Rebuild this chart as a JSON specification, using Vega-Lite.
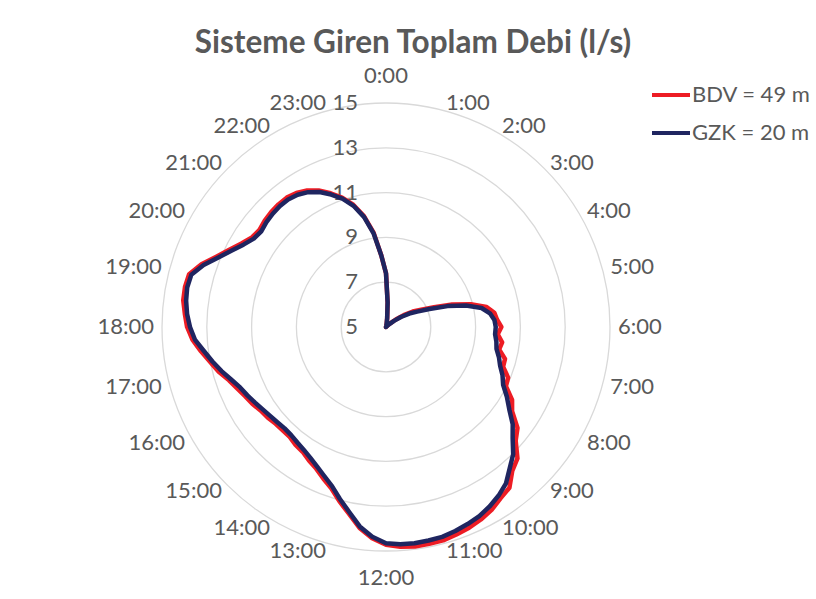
{
  "$schema": "https://vega.github.io/schema/vega-lite/v6.json",
  "width": 448,
  "height": 448,
  "autosize": {"type": "none"},
  "padding": {"left": 162, "top": 103, "right": 206, "bottom": 48},
  "background": "white",
  "config": {
    "view": {"stroke": null},
    "font": "Lato",
    "text": {"font": "Lato", "fontSize": 22, "color": "#595959"}
  },
  "title": {
    "text": "Sisteme Giren Toplam Debi (l/s)",
    "font": "Lato",
    "fontSize": 31.5,
    "fontWeight": "bold",
    "color": "#595959",
    "anchor": "middle",
    "dx": 27,
    "offset": 6
  },
  "datasets": {
    "olcum": [
      {"h": 0, "BDV = 49 m": 7.4, "GZK = 20 m": 7.4},
      {"h": 0.25, "BDV = 49 m": 6.1, "GZK = 20 m": 6.1},
      {"h": 0.5, "BDV = 49 m": 5.4, "GZK = 20 m": 5.4},
      {"h": 0.75, "BDV = 49 m": 5.15, "GZK = 20 m": 5.15},
      {"h": 1, "BDV = 49 m": 5.05, "GZK = 20 m": 5.05},
      {"h": 1.25, "BDV = 49 m": 5.02, "GZK = 20 m": 5.02},
      {"h": 1.5, "BDV = 49 m": 5.0, "GZK = 20 m": 5.0},
      {"h": 1.75, "BDV = 49 m": 5.0, "GZK = 20 m": 5.0},
      {"h": 2, "BDV = 49 m": 5.0, "GZK = 20 m": 5.0},
      {"h": 2.25, "BDV = 49 m": 5.0, "GZK = 20 m": 5.0},
      {"h": 2.5, "BDV = 49 m": 5.0, "GZK = 20 m": 5.0},
      {"h": 2.75, "BDV = 49 m": 5.03, "GZK = 20 m": 5.03},
      {"h": 3, "BDV = 49 m": 5.1, "GZK = 20 m": 5.08},
      {"h": 3.25, "BDV = 49 m": 5.25, "GZK = 20 m": 5.2},
      {"h": 3.5, "BDV = 49 m": 5.55, "GZK = 20 m": 5.45},
      {"h": 3.75, "BDV = 49 m": 5.95, "GZK = 20 m": 5.8},
      {"h": 4, "BDV = 49 m": 6.38, "GZK = 20 m": 6.2},
      {"h": 4.25, "BDV = 49 m": 6.75, "GZK = 20 m": 6.55},
      {"h": 4.5, "BDV = 49 m": 7.32, "GZK = 20 m": 7.1},
      {"h": 4.75, "BDV = 49 m": 8.12, "GZK = 20 m": 7.9},
      {"h": 5, "BDV = 49 m": 8.92, "GZK = 20 m": 8.7},
      {"h": 5.25, "BDV = 49 m": 9.58, "GZK = 20 m": 9.35},
      {"h": 5.5, "BDV = 49 m": 9.88, "GZK = 20 m": 9.68},
      {"h": 5.75, "BDV = 49 m": 9.97, "GZK = 20 m": 9.85},
      {"h": 6, "BDV = 49 m": 10.15, "GZK = 20 m": 9.9},
      {"h": 6.25, "BDV = 49 m": 10.0, "GZK = 20 m": 9.88},
      {"h": 6.5, "BDV = 49 m": 10.23, "GZK = 20 m": 9.97},
      {"h": 6.75, "BDV = 49 m": 10.15, "GZK = 20 m": 10.03},
      {"h": 7, "BDV = 49 m": 10.5, "GZK = 20 m": 10.22},
      {"h": 7.25, "BDV = 49 m": 10.52, "GZK = 20 m": 10.38},
      {"h": 7.5, "BDV = 49 m": 10.9, "GZK = 20 m": 10.63},
      {"h": 7.75, "BDV = 49 m": 10.97, "GZK = 20 m": 10.83},
      {"h": 8, "BDV = 49 m": 11.5, "GZK = 20 m": 11.23},
      {"h": 8.25, "BDV = 49 m": 11.77, "GZK = 20 m": 11.62},
      {"h": 8.5, "BDV = 49 m": 12.4, "GZK = 20 m": 12.13},
      {"h": 8.75, "BDV = 49 m": 12.7, "GZK = 20 m": 12.52},
      {"h": 9, "BDV = 49 m": 13.3, "GZK = 20 m": 13.03},
      {"h": 9.25, "BDV = 49 m": 13.55, "GZK = 20 m": 13.38},
      {"h": 9.5, "BDV = 49 m": 14.05, "GZK = 20 m": 13.8},
      {"h": 9.75, "BDV = 49 m": 14.2, "GZK = 20 m": 14.05},
      {"h": 10, "BDV = 49 m": 14.43, "GZK = 20 m": 14.25},
      {"h": 10.25, "BDV = 49 m": 14.58, "GZK = 20 m": 14.42},
      {"h": 10.5, "BDV = 49 m": 14.7, "GZK = 20 m": 14.52},
      {"h": 10.75, "BDV = 49 m": 14.78, "GZK = 20 m": 14.62},
      {"h": 11, "BDV = 49 m": 14.86, "GZK = 20 m": 14.7},
      {"h": 11.25, "BDV = 49 m": 14.87, "GZK = 20 m": 14.72},
      {"h": 11.5, "BDV = 49 m": 14.88, "GZK = 20 m": 14.74},
      {"h": 11.75, "BDV = 49 m": 14.83, "GZK = 20 m": 14.72},
      {"h": 12, "BDV = 49 m": 14.72, "GZK = 20 m": 14.65},
      {"h": 12.25, "BDV = 49 m": 14.45, "GZK = 20 m": 14.38},
      {"h": 12.5, "BDV = 49 m": 14.05, "GZK = 20 m": 13.98},
      {"h": 12.75, "BDV = 49 m": 13.5, "GZK = 20 m": 13.42},
      {"h": 13, "BDV = 49 m": 13.05, "GZK = 20 m": 12.95},
      {"h": 13.25, "BDV = 49 m": 12.6, "GZK = 20 m": 12.5},
      {"h": 13.5, "BDV = 49 m": 12.32, "GZK = 20 m": 12.2},
      {"h": 13.75, "BDV = 49 m": 12.05, "GZK = 20 m": 11.95},
      {"h": 14, "BDV = 49 m": 11.88, "GZK = 20 m": 11.75},
      {"h": 14.25, "BDV = 49 m": 11.7, "GZK = 20 m": 11.6},
      {"h": 14.5, "BDV = 49 m": 11.63, "GZK = 20 m": 11.5},
      {"h": 14.75, "BDV = 49 m": 11.52, "GZK = 20 m": 11.42},
      {"h": 15, "BDV = 49 m": 11.52, "GZK = 20 m": 11.4},
      {"h": 15.25, "BDV = 49 m": 11.55, "GZK = 20 m": 11.45},
      {"h": 15.5, "BDV = 49 m": 11.65, "GZK = 20 m": 11.52},
      {"h": 15.75, "BDV = 49 m": 11.72, "GZK = 20 m": 11.62},
      {"h": 16, "BDV = 49 m": 11.88, "GZK = 20 m": 11.75},
      {"h": 16.25, "BDV = 49 m": 12.0, "GZK = 20 m": 11.9},
      {"h": 16.5, "BDV = 49 m": 12.18, "GZK = 20 m": 12.05},
      {"h": 16.75, "BDV = 49 m": 12.4, "GZK = 20 m": 12.3},
      {"h": 17, "BDV = 49 m": 12.73, "GZK = 20 m": 12.6},
      {"h": 17.25, "BDV = 49 m": 13.0, "GZK = 20 m": 12.9},
      {"h": 17.5, "BDV = 49 m": 13.33, "GZK = 20 m": 13.2},
      {"h": 17.75, "BDV = 49 m": 13.66, "GZK = 20 m": 13.55},
      {"h": 18, "BDV = 49 m": 13.88, "GZK = 20 m": 13.75},
      {"h": 18.25, "BDV = 49 m": 14.0, "GZK = 20 m": 13.9},
      {"h": 18.5, "BDV = 49 m": 14.13, "GZK = 20 m": 14.0},
      {"h": 18.75, "BDV = 49 m": 14.15, "GZK = 20 m": 14.05},
      {"h": 19, "BDV = 49 m": 14.1, "GZK = 20 m": 14.0},
      {"h": 19.25, "BDV = 49 m": 13.7, "GZK = 20 m": 13.6},
      {"h": 19.5, "BDV = 49 m": 13.2, "GZK = 20 m": 13.1},
      {"h": 19.75, "BDV = 49 m": 12.8, "GZK = 20 m": 12.7},
      {"h": 20, "BDV = 49 m": 12.45, "GZK = 20 m": 12.35},
      {"h": 20.25, "BDV = 49 m": 12.2, "GZK = 20 m": 12.1},
      {"h": 20.5, "BDV = 49 m": 12.12, "GZK = 20 m": 12.02},
      {"h": 20.75, "BDV = 49 m": 12.2, "GZK = 20 m": 12.1},
      {"h": 21, "BDV = 49 m": 12.25, "GZK = 20 m": 12.15},
      {"h": 21.25, "BDV = 49 m": 12.28, "GZK = 20 m": 12.18},
      {"h": 21.5, "BDV = 49 m": 12.28, "GZK = 20 m": 12.18},
      {"h": 21.75, "BDV = 49 m": 12.2, "GZK = 20 m": 12.1},
      {"h": 22, "BDV = 49 m": 12.04, "GZK = 20 m": 11.95},
      {"h": 22.25, "BDV = 49 m": 11.8, "GZK = 20 m": 11.72},
      {"h": 22.5, "BDV = 49 m": 11.46, "GZK = 20 m": 11.4},
      {"h": 22.75, "BDV = 49 m": 11.1, "GZK = 20 m": 11.05},
      {"h": 23, "BDV = 49 m": 10.65, "GZK = 20 m": 10.6},
      {"h": 23.25, "BDV = 49 m": 10.05, "GZK = 20 m": 10.0},
      {"h": 23.5, "BDV = 49 m": 9.25, "GZK = 20 m": 9.2},
      {"h": 23.75, "BDV = 49 m": 8.2, "GZK = 20 m": 8.2},
      {"h": 24, "BDV = 49 m": 7.4, "GZK = 20 m": 7.4}
    ],
    "saatler": [
      {"h": 0, "etiket": "0:00"}, {"h": 1, "etiket": "1:00"}, {"h": 2, "etiket": "2:00"},
      {"h": 3, "etiket": "3:00"}, {"h": 4, "etiket": "4:00"}, {"h": 5, "etiket": "5:00"},
      {"h": 6, "etiket": "6:00"}, {"h": 7, "etiket": "7:00"}, {"h": 8, "etiket": "8:00"},
      {"h": 9, "etiket": "9:00"}, {"h": 10, "etiket": "10:00"}, {"h": 11, "etiket": "11:00"},
      {"h": 12, "etiket": "12:00"}, {"h": 13, "etiket": "13:00"}, {"h": 14, "etiket": "14:00"},
      {"h": 15, "etiket": "15:00"}, {"h": 16, "etiket": "16:00"}, {"h": 17, "etiket": "17:00"},
      {"h": 18, "etiket": "18:00"}, {"h": 19, "etiket": "19:00"}, {"h": 20, "etiket": "20:00"},
      {"h": 21, "etiket": "21:00"}, {"h": 22, "etiket": "22:00"}, {"h": 23, "etiket": "23:00"}
    ],
    "halkalar": [{"v": 5}, {"v": 7}, {"v": 9}, {"v": 11}, {"v": 13}, {"v": 15}]
  },
  "layer": [
    {
      "data": {"name": "halkalar"},
      "transform": [
        {"filter": "datum.v > 5"},
        {"calculate": "datum.v - 5", "as": "d"},
        {"calculate": "0", "as": "px"},
        {"calculate": "0", "as": "py"}
      ],
      "mark": {"type": "point", "shape": "circle", "filled": false, "color": "#d9d9d9", "stroke": "#d9d9d9", "strokeWidth": 1.3, "opacity": 1},
      "encoding": {
        "x": {"field": "px", "type": "quantitative", "scale": {"domain": [-10, 10], "nice": false, "zero": false}, "axis": null},
        "y": {"field": "py", "type": "quantitative", "scale": {"domain": [-10, 10], "nice": false, "zero": false}, "axis": null},
        "size": {"field": "d", "type": "quantitative", "scale": {"type": "pow", "exponent": 2, "domain": [0, 10], "range": [0, 200704]}, "legend": null}
      }
    },
    {
      "data": {"name": "halkalar"},
      "transform": [
        {"calculate": "0", "as": "px"},
        {"calculate": "datum.v - 5", "as": "py"}
      ],
      "mark": {"type": "text", "align": "right", "baseline": "middle", "dx": -28},
      "encoding": {
        "x": {"field": "px", "type": "quantitative", "scale": {"domain": [-10, 10], "nice": false, "zero": false}, "axis": null},
        "y": {"field": "py", "type": "quantitative", "scale": {"domain": [-10, 10], "nice": false, "zero": false}, "axis": null},
        "text": {"field": "v", "type": "quantitative", "format": "d"}
      }
    },
    {
      "data": {"name": "olcum"},
      "transform": [
        {"fold": ["BDV = 49 m", "GZK = 20 m"], "as": ["seri", "debi"]},
        {"calculate": "2 * PI * datum.h / 24", "as": "aci"},
        {"calculate": "(datum.debi - 5) * sin(datum.aci)", "as": "px"},
        {"calculate": "(datum.debi - 5) * cos(datum.aci)", "as": "py"}
      ],
      "mark": {"type": "line", "strokeWidth": 4.5, "strokeJoin": "round", "strokeCap": "round"},
      "encoding": {
        "x": {"field": "px", "type": "quantitative", "scale": {"domain": [-10, 10], "nice": false, "zero": false}, "axis": null},
        "y": {"field": "py", "type": "quantitative", "scale": {"domain": [-10, 10], "nice": false, "zero": false}, "axis": null},
        "order": {"field": "h", "type": "quantitative"},
        "color": {
          "field": "seri",
          "type": "nominal",
          "scale": {"domain": ["BDV = 49 m", "GZK = 20 m"], "range": ["#ed1c24", "#1f2560"]},
          "legend": {
            "orient": "none",
            "legendX": 488,
            "legendY": -29,
            "title": null,
            "padding": 0,
            "symbolType": "stroke",
            "symbolSize": 1444,
            "symbolStrokeWidth": 4,
            "labelFont": "Lato",
            "labelFontSize": 22,
            "labelColor": "#595959",
            "labelOffset": 0,
            "rowPadding": 6
          }
        }
      }
    },
    {
      "data": {"name": "saatler"},
      "transform": [
        {"filter": "datum.h > 0 && datum.h < 12"},
        {"calculate": "2 * PI * datum.h / 24", "as": "aci"},
        {"calculate": "10.36 * sin(datum.aci)", "as": "px"},
        {"calculate": "10.36 * cos(datum.aci)", "as": "py"}
      ],
      "mark": {"type": "text", "align": "left", "baseline": "middle"},
      "encoding": {
        "x": {"field": "px", "type": "quantitative", "scale": {"domain": [-10, 10], "nice": false, "zero": false}, "axis": null},
        "y": {"field": "py", "type": "quantitative", "scale": {"domain": [-10, 10], "nice": false, "zero": false}, "axis": null},
        "text": {"field": "etiket", "type": "nominal"}
      }
    },
    {
      "data": {"name": "saatler"},
      "transform": [
        {"filter": "datum.h > 12"},
        {"calculate": "2 * PI * datum.h / 24", "as": "aci"},
        {"calculate": "10.36 * sin(datum.aci)", "as": "px"},
        {"calculate": "10.36 * cos(datum.aci)", "as": "py"}
      ],
      "mark": {"type": "text", "align": "right", "baseline": "middle"},
      "encoding": {
        "x": {"field": "px", "type": "quantitative", "scale": {"domain": [-10, 10], "nice": false, "zero": false}, "axis": null},
        "y": {"field": "py", "type": "quantitative", "scale": {"domain": [-10, 10], "nice": false, "zero": false}, "axis": null},
        "text": {"field": "etiket", "type": "nominal"}
      }
    },
    {
      "data": {"name": "saatler"},
      "transform": [
        {"filter": "datum.h == 0 || datum.h == 12"},
        {"calculate": "2 * PI * datum.h / 24", "as": "aci"},
        {"calculate": "11.2 * sin(datum.aci)", "as": "px"},
        {"calculate": "11.2 * cos(datum.aci)", "as": "py"}
      ],
      "mark": {"type": "text", "align": "center", "baseline": "middle"},
      "encoding": {
        "x": {"field": "px", "type": "quantitative", "scale": {"domain": [-10, 10], "nice": false, "zero": false}, "axis": null},
        "y": {"field": "py", "type": "quantitative", "scale": {"domain": [-10, 10], "nice": false, "zero": false}, "axis": null},
        "text": {"field": "etiket", "type": "nominal"}
      }
    }
  ]
}
